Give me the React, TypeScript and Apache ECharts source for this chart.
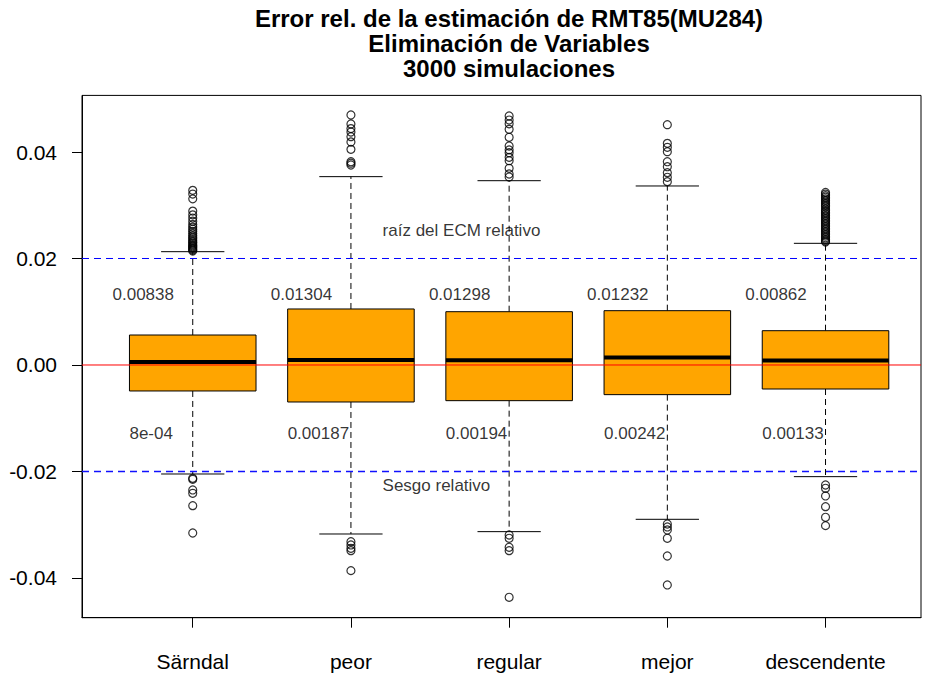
import React, { useEffect, useRef } from "react";
import * as echarts from "echarts";

const categories = ["Särndal", "peor", "regular", "mejor", "descendente"];
const whiskerLow = [-0.02047, -0.03174, -0.0313, -0.02898, -0.02097];
const q1 = [-0.00488, -0.00695, -0.0067, -0.00557, -0.00451];
const medians = [0.00056, 0.00094, 0.0009, 0.0014, 0.00085];
const q3 = [0.00563, 0.01052, 0.01001, 0.0102, 0.00644];
const whiskerHigh = [0.02128, 0.03537, 0.03461, 0.03362, 0.02285];

const outSarndal = [
  0.0214, 0.0216, 0.0218, 0.022, 0.0222, 0.0224, 0.0226, 0.0229, 0.0231, 0.0234,
  0.0237, 0.024, 0.0243, 0.0247, 0.0251, 0.0255, 0.0259, 0.0264, 0.027, 0.0276,
  0.0282, 0.0289, 0.0312, 0.0321, 0.0328,
  -0.02128, -0.02147, -0.02347, -0.0241, -0.02642, -0.03155,
];
const outPeor = [
  0.04695, 0.04526, 0.0444, 0.04376, 0.04288, 0.04188, 0.0405, 0.03818, 0.0379, 0.03756,
  -0.03318, -0.0338, -0.03443, -0.03487, -0.03862,
];
const outRegular = [
  0.04676, 0.046, 0.0453, 0.04426, 0.04276, 0.04113, 0.0404, 0.03987, 0.039, 0.03837,
  0.03694, 0.03587, 0.0353,
  -0.03193, -0.03255, -0.03424, -0.03487, -0.04363,
];
const outMejor = [
  0.04513, 0.04163, 0.04088, 0.04006, 0.03818, 0.03724, 0.03612, 0.03525, 0.03443,
  -0.02986, -0.03042, -0.03099, -0.03255, -0.03587, -0.04131,
];
const outDescendente = [
  0.0231, 0.0233, 0.0236, 0.0239, 0.0242, 0.0245, 0.0248, 0.0251, 0.0254, 0.0257,
  0.026, 0.0263, 0.0266, 0.0269, 0.0272, 0.0275, 0.0278, 0.0281, 0.0284, 0.0287,
  0.029, 0.0293, 0.0297, 0.03, 0.0303, 0.0306, 0.0309, 0.0312, 0.0315, 0.0318,
  0.0321, 0.0324,
  -0.02254, -0.02316, -0.0246, -0.02661, -0.0286, -0.03017,
];
const outliers = [outSarndal, outPeor, outRegular, outMejor, outDescendente];

const ecmLabels = ["0.00838", "0.01304", "0.01298", "0.01232", "0.00862"];
const sesgoLabels = ["8e-04", "0.00187", "0.00194", "0.00242", "0.00133"];
const ecmLabelY = 0.0133;
const sesgoLabelY = -0.0128;
const yTicks = [-0.04, -0.02, 0, 0.02, 0.04];
const xTicks = [1, 2, 3, 4, 5];
const X_MIN = 0.3;
const X_MAX = 5.6035;
const refZero = 0;
const refBandUpper = 0.02;
const refBandLower = -0.02;
const titleLines = [
  "Error rel. de la estimación de RMT85(MU284)",
  "Eliminación de Variables",
  "3000 simulaciones",
];
const noteEcm = "raíz del ECM relativo";
const noteSesgo = "Sesgo relativo";
const noteX = 2.2;
const noteEcmY = 0.0252;
const noteSesgoY = -0.0227;

const FONT = '"Liberation Sans", Arial, Helvetica, sans-serif';

export default function App() {
  const ref = useRef<HTMLDivElement>(null);
  useEffect(() => {
    document.body.style.margin = "0";
    const chart = echarts.init(ref.current!, null, { renderer: "svg" });
    const boxData = categories.map((_, i) => [
      i + 1,
      whiskerLow[i],
      q1[i],
      medians[i],
      q3[i],
      whiskerHigh[i],
    ]);
    const outData: number[][] = [];
    outliers.forEach((arr, i) => arr.forEach((v) => outData.push([i + 1, v])));
    const ecmData = ecmLabels.map((t, i) => [i + 1 - 0.313, ecmLabelY, t]);
    const sesgoData = sesgoLabels.map((t, i) => [i + 1 - 0.4, sesgoLabelY, t]);

    const refLine = (y: number, color: string, type: any, width: number) => ({
      type: "line",
      z: 6,
      data: [
        [X_MIN, y],
        [X_MAX, y],
      ],
      symbol: "none",
      silent: true,
      itemStyle: { color },
      lineStyle: { color, type, width, opacity: 1 },
    });

    const option: any = {
      animation: false,
      backgroundColor: "#ffffff",
      textStyle: { fontFamily: FONT },
      grid: {
        left: 82,
        top: 95.4,
        width: 839,
        height: 522.3,
        show: true,
        borderColor: "#000",
        borderWidth: 1,
        backgroundColor: "transparent",
      },
      graphic: [
        {
          type: "text",
          x: 509,
          y: 5.5,
          style: {
            text: titleLines.join("\n"),
            font: `bold 24px ${FONT}`,
            lineHeight: 25,
            fill: "#000",
            textAlign: "center",
            textVerticalAlign: "top",
          },
        },
      ],
      xAxis: {
        type: "value",
        min: X_MIN,
        max: X_MAX,
        splitLine: { show: false },
        axisLine: { show: true, onZero: false, lineStyle: { color: "#000" } },
        axisTick: {
          show: true,
          inside: false,
          customValues: xTicks,
          length: 10,
          lineStyle: { color: "#000", width: 1 },
        },
        axisLabel: {
          customValues: xTicks,
          formatter: (v: number) => categories[Math.round(v) - 1] ?? "",
          color: "#000",
          fontSize: 21,
          fontFamily: FONT,
          margin: 33,
        },
      },
      yAxis: {
        type: "value",
        min: -0.04746,
        max: 0.05063,
        splitLine: { show: false },
        axisLine: { show: true, onZero: false, lineStyle: { color: "#000" } },
        axisTick: {
          show: true,
          customValues: yTicks,
          length: 10,
          lineStyle: { color: "#000" },
        },
        axisLabel: {
          customValues: yTicks,
          formatter: (v: number) => v.toFixed(2),
          color: "#000",
          fontSize: 21,
          fontFamily: FONT,
          margin: 25,
        },
      },
      series: [
        {
          type: "custom",
          z: 2,
          data: boxData,
          renderItem: (params: any, api: any) => {
            const x = api.value(0);
            const low = api.coord([x, api.value(1)]);
            const p1 = api.coord([x, api.value(2)]);
            const pm = api.coord([x, api.value(3)]);
            const p3 = api.coord([x, api.value(4)]);
            const high = api.coord([x, api.value(5)]);
            const cx = low[0];
            const half = api.size([0.4, 0])[0];
            const cap = half / 2;
            const dash = { stroke: "#000", lineWidth: 1, lineDash: [6, 4] };
            const solid = { stroke: "#000", lineWidth: 1 };
            return {
              type: "group",
              children: [
                { type: "line", shape: { x1: cx, y1: p3[1], x2: cx, y2: high[1] }, style: dash },
                { type: "line", shape: { x1: cx, y1: p1[1], x2: cx, y2: low[1] }, style: dash },
                { type: "line", shape: { x1: cx - cap, y1: high[1], x2: cx + cap, y2: high[1] }, style: solid },
                { type: "line", shape: { x1: cx - cap, y1: low[1], x2: cx + cap, y2: low[1] }, style: solid },
                {
                  type: "rect",
                  shape: { x: cx - half, y: p3[1], width: 2 * half, height: p1[1] - p3[1] },
                  style: { fill: "#FFA500", stroke: "#000", lineWidth: 1 },
                },
                {
                  type: "line",
                  shape: { x1: cx - half, y1: pm[1], x2: cx + half, y2: pm[1] },
                  style: { stroke: "#000", lineWidth: 4 },
                },
              ],
            };
          },
        },
        {
          type: "scatter",
          z: 3,
          data: outData,
          symbol: "circle",
          symbolSize: 8,
          itemStyle: { color: "rgba(0,0,0,0)", borderColor: "#000", borderWidth: 1.2 },
        },
        refLine(refZero, "#FF0000", "solid", 1),
        refLine(refBandUpper, "#0000FF", [7, 5], 1),
        refLine(refBandLower, "#1010FF", [7, 5], 1.3),
        {
          type: "scatter",
          z: 5,
          symbolSize: 0,
          data: ecmData,
          label: {
            show: true,
            position: "inside",
            formatter: (p: any) => p.value[2],
            color: "#000",
            fontSize: 17,
            fontFamily: FONT,
          },
        },
        {
          type: "scatter",
          z: 5,
          symbolSize: 0,
          data: sesgoData,
          label: {
            show: true,
            position: "right",
            distance: 0,
            formatter: (p: any) => p.value[2],
            color: "#000",
            fontSize: 17,
            fontFamily: FONT,
          },
        },
        {
          type: "scatter",
          z: 5,
          symbolSize: 0,
          data: [
            [noteX, noteEcmY, noteEcm],
            [noteX, noteSesgoY, noteSesgo],
          ],
          label: {
            show: true,
            position: "right",
            distance: 0,
            formatter: (p: any) => p.value[2],
            color: "#000",
            fontSize: 17,
            fontFamily: FONT,
          },
        },
      ],
    };
    chart.setOption(option);
    return () => chart.dispose();
  }, []);
  return <div ref={ref} style={{ width: 925, height: 677 }} />;
}
